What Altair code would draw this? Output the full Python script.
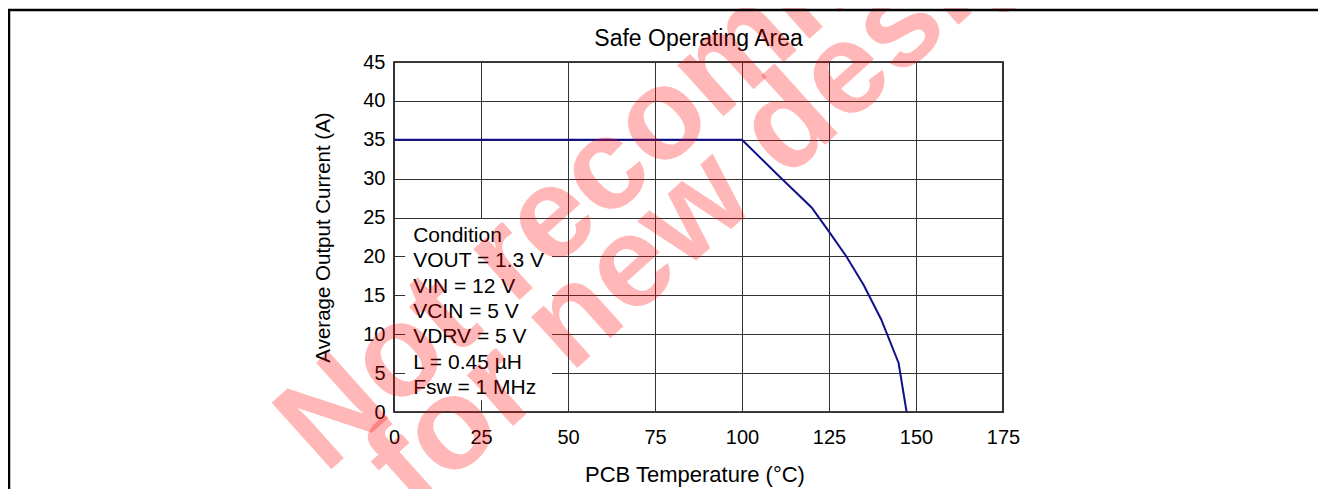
import altair as alt
import pandas as pd

# ---- data ----
temps = [0, 100, 110, 120, 125, 130, 135, 140, 145, 147.3]
currents = [35, 35, 30.6, 26.3, 23.2, 20.0, 16.3, 11.9, 6.3, 0]
x_ticks = [0, 25, 50, 75, 100, 125, 150, 175]
y_ticks = [0, 5, 10, 15, 20, 25, 30, 35, 40, 45]
condition_lines = ["Condition", "VOUT = 1.3 V", "VIN = 12 V", "VCIN = 5 V",
                   "VDRV = 5 V", "L = 0.45 \u00b5H", "Fsw = 1 MHz"]
watermark_lines = ["Not recommended", "for new designs"]
title_text = "Safe Operating Area"
x_title = "PCB Temperature (\u00b0C)"
y_title = "Average Output Current (A)"

FONT = "Liberation Sans, Arial, Helvetica, sans-serif"
W, H = 609, 350

curve = pd.DataFrame({"t": temps, "i": currents})
cond = pd.DataFrame({"txt": condition_lines,
                     "x": [5.5] * len(condition_lines),
                     "y": [21.9 - k * 3.27 for k in range(len(condition_lines))]})
box = pd.DataFrame({"x": [3.2], "x2": [45.4], "y": [1.5], "y2": [24.8]})
one = pd.DataFrame({"k": [0]})

xscale = alt.Scale(domain=[0, 175], nice=False, zero=False)
yscale = alt.Scale(domain=[0, 45], nice=False, zero=False)

xaxis = alt.Axis(values=x_ticks, grid=True, gridColor="#333333", gridWidth=1,
                 domain=False, ticks=False, tickSize=0, labelPadding=15,
                 labelFontSize=20, labelFont=FONT, labelColor="#000",
                 labelFlush=False, labelOverlap=False,
                 title=x_title, titleFont=FONT, titleFontSize=22,
                 titleFontWeight="normal", titleColor="#000",
                 titleBaseline="alphabetic", titleX=W / 2 - 4, titleY=69.5)
yaxis = alt.Axis(values=y_ticks, grid=True, gridColor="#333333", gridWidth=1,
                 domain=False, ticks=False, tickSize=0, labelPadding=9,
                 labelFontSize=20, labelFont=FONT, labelColor="#000",
                 labelFlush=False, labelOverlap=False,
                 title=y_title, titleFont=FONT, titleFontSize=20.5,
                 titleFontWeight="normal", titleColor="#000",
                 titleAngle=270, titleBaseline="alphabetic",
                 titleX=-65, titleY=H / 2)

line = alt.Chart(curve).mark_line(color="#10108a", strokeWidth=2).encode(
    x=alt.X("t:Q", scale=xscale, axis=xaxis),
    y=alt.Y("i:Q", scale=yscale, axis=yaxis),
)

rect = alt.Chart(box).mark_rect(color="white", opacity=1).encode(
    x=alt.X("x:Q", scale=xscale, axis=xaxis), x2="x2:Q",
    y=alt.Y("y:Q", scale=yscale, axis=yaxis), y2="y2:Q",
)

cond_text = alt.Chart(cond).mark_text(
    align="left", baseline="alphabetic", font=FONT, fontSize=21, color="#000"
).encode(
    x=alt.X("x:Q", scale=xscale, axis=xaxis),
    y=alt.Y("y:Q", scale=yscale, axis=yaxis), text="txt:N"
)

title = alt.Chart(one).mark_text(
    align="center", baseline="alphabetic", font=FONT, fontSize=23, color="#000"
).encode(x=alt.value(W / 2), y=alt.value(-16), text=alt.value(title_text))

wm_style = dict(align="left", baseline="alphabetic", font=FONT, fontSize=130,
                fontWeight="bold", color="#ff0000", opacity=0.28, angle=318)
wm1 = alt.Chart(one).mark_text(**wm_style).encode(
    x=alt.value(-69), y=alt.value(413), text=alt.value(watermark_lines[0]))
wm2 = alt.Chart(one).mark_text(**wm_style).encode(
    x=alt.value(21), y=alt.value(452), text=alt.value(watermark_lines[1]))

frame_top = alt.Chart(one).mark_rule(color="#000", strokeWidth=2.5).encode(
    x=alt.value(-386), x2=alt.value(924), y=alt.value(-52))
frame_left = alt.Chart(one).mark_rule(color="#000", strokeWidth=2.5).encode(
    x=alt.value(-385), y=alt.value(-52), y2=alt.value(440))

chart = alt.layer(rect, line, cond_text, title, wm1, wm2, frame_top, frame_left).properties(
    width=W, height=H, background="white",
    autosize=alt.AutoSizeParams(type="none"),
    padding={"left": 386, "top": 54, "right": 315, "bottom": 77},
).configure_view(stroke="#000", strokeWidth=1.6)

chart.save("out.html", embed_options={"renderer": "svg", "actions": False})
